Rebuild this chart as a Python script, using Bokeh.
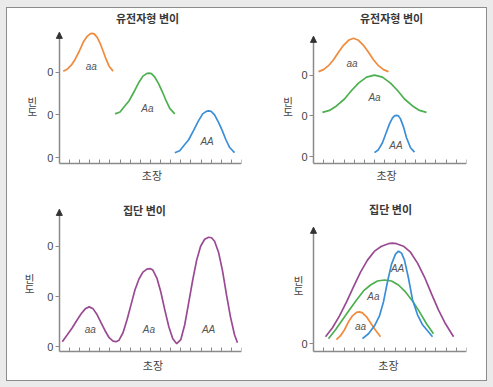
from bokeh.plotting import figure
from bokeh.layouts import column, row
from bokeh.models import Range1d, FixedTicker, Arrow, NormalHead, Label, GlobalInlineStyleSheet
from bokeh.core.properties import value
from bokeh.embed import file_html
from bokeh.resources import INLINE

# ---------------- data ----------------
genotypes = ["aa", "Aa", "AA"]

# Panel 1: genotype variation (separated)
g_aa_x = [0.39, 0.79, 1.18, 1.57, 1.97, 2.36, 2.75, 3.05, 3.24, 3.44, 3.74, 4.03, 4.33, 4.62, 4.92, 5.31]
g_aa_y = [93, 95, 99, 105, 113, 122, 128, 130.5, 131, 130.5, 127, 121, 113, 105, 98, 93]
g_Aa_x = [5.51, 6.00, 6.39, 6.88, 7.37, 7.82, 8.26, 8.62, 8.85, 9.10, 9.44, 9.83, 10.19, 10.56, 10.91, 11.41]
g_Aa_y = [50, 52, 57, 63, 72, 81, 88, 90.5, 91, 90.5, 87, 80, 72, 63, 55.5, 50]
g_AA_x = [11.41, 11.90, 12.29, 12.78, 13.27, 13.72, 14.16, 14.52, 14.75, 15.00, 15.34, 15.73, 16.09, 16.46, 16.81, 17.31]
g_AA_y = [11, 13, 18, 24, 33.5, 42.5, 50, 52.5, 53, 52.5, 49, 41.5, 33.5, 24, 16.5, 11]
g_yticks = [6, 49, 92]
g_lab_x = [3.15, 8.70, 14.60]
g_lab_y = [98, 55.5, 22]

# Panel 2: genotype variation (overlapping)
h_aa_x = [0.49, 0.98, 1.47, 1.96, 2.45, 2.94, 3.43, 3.92, 4.41, 4.90, 5.39, 5.88, 6.37, 6.86, 7.35]
h_aa_y = [92.5, 94.5, 98.5, 104.5, 112, 119, 124, 126, 124, 119, 112, 104.5, 98.5, 94.5, 92.5]
h_Aa_x = [0.88, 1.57, 2.25, 3.04, 3.73, 4.41, 5.20, 5.98, 6.76, 7.55, 8.24, 8.92, 9.71, 10.39, 11.08]
h_Aa_y = [51.5, 53.5, 58, 65, 73.5, 81, 87, 89, 87, 81, 73.5, 65, 58, 53.5, 51.5]
h_AA_x = [5.98, 6.37, 6.76, 7.16, 7.45, 7.75, 7.94, 8.14, 8.33, 8.53, 8.82, 9.12, 9.51, 9.90]
h_AA_y = [11, 14, 21, 32, 40, 46, 48, 48.5, 48, 45, 37, 26, 16, 11.5]
h_yticks = [7, 48, 89]
h_lab_x = [3.77, 5.98, 8.09]
h_lab_y = [101, 66, 18]

# Panel 3: population variation (separated peaks)
k_x = [0.29, 0.79, 1.28, 1.77, 2.16, 2.56, 2.95, 3.34, 3.74, 4.13, 4.52, 4.92, 5.31, 5.60, 5.90,
       6.29, 6.69, 7.08, 7.47, 7.87, 8.26, 8.65, 8.95, 9.24, 9.64, 10.03, 10.42, 10.82, 11.21, 11.60,
       12.00, 12.39, 12.78, 13.18, 13.57, 13.96, 14.36, 14.75, 15.04, 15.34, 15.73, 16.13, 16.52,
       16.91, 17.31, 17.60]
k_y = [10, 17, 24, 32, 38, 43, 45, 43, 37, 29, 21, 14, 10.5, 10, 11.5,
       19, 32, 47, 62, 73, 80, 83, 83.5, 82, 74, 60, 42, 25, 13, 8,
       12, 27, 49, 72, 92, 106, 113, 115, 114.5, 111, 100, 81, 57,
       35, 17, 9]
k_yticks = [5, 55, 106]
k_lab_x = [3.05, 8.85, 14.75]
k_lab_y = [22, 22, 22]

# Panel 4: population variation (overlapping)
m_tot_x = [1.18, 1.86, 2.55, 3.24, 3.92, 4.61, 5.29, 5.98, 6.67, 7.35, 7.75, 8.14, 8.82, 9.51,
           10.20, 10.88, 11.57, 12.25, 12.94, 13.73]
m_tot_y = [15, 24, 36, 50, 65, 80, 92, 101, 106, 108.5, 109, 108.5, 106, 100, 89, 75, 58, 42, 28, 15]
m_Aa_x = [1.47, 2.16, 2.84, 3.53, 4.22, 4.90, 5.59, 6.27, 6.96, 7.65, 8.33, 9.02, 9.71, 10.39, 11.08, 11.76]
m_Aa_y = [13, 22, 32, 42, 52, 61, 67, 71, 72, 71, 67, 60, 51, 40, 28, 18]
m_aa_x = [2.25, 2.65, 3.04, 3.43, 3.82, 4.22, 4.51, 4.80, 5.20, 5.59, 5.98, 6.27, 6.57]
m_aa_y = [12, 16, 22, 30, 36, 39.5, 40, 39, 35, 29, 23, 19, 15]
m_AA_x = [4.80, 5.39, 5.98, 6.47, 6.86, 7.25, 7.65, 8.04, 8.33, 8.63, 8.92, 9.31, 9.71, 10.20, 10.69, 11.18, 11.67]
m_AA_y = [13, 18, 26, 36, 50, 70, 88, 98, 101, 99, 92, 74, 52, 37, 27, 21, 15]
m_yticks = [8]
m_lab_text = ["AA", "Aa", "aa"]
m_lab_x = [8.24, 5.88, 4.61]
m_lab_y = [84, 55, 25]

# ---------------- styles ----------------
ORANGE = "#f08a3c"
GREEN = "#4cb04f"
BLUE = "#3a8fd8"
PURPLE = "#9a4a92"
AXIS = "#8a8a8a"
TXT = "#444444"
KFONT = "Noto Sans CJK KR"
LW = 1.7


def add_text(p, x, y, text, bold=False, size="11px"):
    p.add_layout(Label(x=x, y=y, text=text, text_font=KFONT, text_font_size=size,
                       text_font_style="bold" if bold else "normal",
                       text_color="#383838" if bold else TXT,
                       text_align="center", text_baseline="middle"))


def make_panel(title, w, h, xr, yr, xmax, ymax, yticks, mbr, title_xy, ylab_xy, xlab_xy):
    p = figure(width=w, height=h, x_range=Range1d(*xr), y_range=Range1d(*yr),
               output_backend="svg", toolbar_location=None,
               min_border_left=15, min_border_right=mbr,
               min_border_top=0, min_border_bottom=5,
               background_fill_color="white", border_fill_color="white")
    p.frame_align = False
    p.outline_line_color = None
    p.grid.visible = False

    xa = p.xaxis[0]
    xt = list(range(1, xmax + 1))
    xa.fixed_location = 0
    xa.bounds = (0, xmax)
    xa.ticker = FixedTicker(ticks=xt)
    xa.major_label_overrides = {t: "" for t in xt}
    xa.major_label_text_font_size = "0px"
    xa.major_label_standoff = 0
    xa.major_tick_in = 4
    xa.major_tick_out = 0
    xa.minor_tick_line_color = None
    xa.axis_line_color = AXIS
    xa.axis_line_width = 1.5
    xa.major_tick_line_color = AXIS
    xa.major_tick_line_width = 1

    ya = p.yaxis[0]
    ya.fixed_location = 0
    ya.bounds = (0, ymax)
    ya.ticker = FixedTicker(ticks=yticks)
    ya.major_label_overrides = {t: "0" for t in yticks}
    ya.major_label_text_font = "Liberation Sans"
    ya.major_label_text_font_size = "11px"
    ya.major_label_text_color = TXT
    ya.major_label_standoff = 2
    ya.major_tick_in = 0
    ya.major_tick_out = 4
    ya.minor_tick_line_color = None
    ya.axis_line_color = AXIS
    ya.axis_line_width = 1.5
    ya.major_tick_line_color = AXIS

    p.add_layout(Arrow(end=NormalHead(size=6, fill_color="#333333", line_color="#333333", line_width=1),
                       x_start=0, y_start=ymax - 3, x_end=0, y_end=ymax,
                       line_color=AXIS, line_width=1.5))
    add_text(p, title_xy[0], title_xy[1], title, bold=True)
    add_text(p, ylab_xy[0], ylab_xy[1], "빈", size="10.5px")
    add_text(p, ylab_xy[0], ylab_xy[2], "도", size="10.5px")
    add_text(p, xlab_xy[0], xlab_xy[1], "초장")
    return p


def labels(p, texts, xs, ys):
    p.text(x=xs, y=ys, text=texts,
           text_font=value("Liberation Sans"), text_font_style="italic",
           text_font_size="10px", text_color="#555555",
           text_align="center", text_baseline="middle")


# Panel 1  (frame x: 21..241 px, axis at 58 px; 10.1667 px per x unit, 1 px per y unit)
p1 = make_panel("유전자형 변이", 238, 182, (-3.639, 18), (-22, 156), 18, 132, g_yticks, 4,
                (8.72, 146), (-2.66, 62.5, 52.5), (9.15, -11))
p1.line(g_aa_x, g_aa_y, line_color=ORANGE, line_width=LW)
p1.line(g_Aa_x, g_Aa_y, line_color=GREEN, line_width=LW)
p1.line(g_AA_x, g_AA_y, line_color=BLUE, line_width=LW)
labels(p1, genotypes, g_lab_x, g_lab_y)

# Panel 2  (frame x: 260..466 px, axis at 313 px; 10.2 px per x unit)
p2 = make_panel("유전자형 변이", 241, 182, (-5.196, 15), (-22, 156), 15, 128, h_yticks, 20,
                (7.65, 146), (-2.5, 62, 52), (7.16, -11))
p2.line(h_aa_x, h_aa_y, line_color=ORANGE, line_width=LW)
p2.line(h_Aa_x, h_Aa_y, line_color=GREEN, line_width=LW)
p2.line(h_AA_x, h_AA_y, line_color=BLUE, line_width=LW)
labels(p2, genotypes, h_lab_x, h_lab_y)

# Panel 3
p3 = make_panel("집단 변이", 238, 190, (-3.639, 18), (-24, 162), 18, 143, k_yticks, 4,
                (8.41, 142.7), (-2.95, 73.5, 63), (9.25, -13))
p3.line(k_x, k_y, line_color=PURPLE, line_width=LW)
labels(p3, genotypes, k_lab_x, k_lab_y)

# Panel 4
p4 = make_panel("집단 변이", 241, 190, (-5.196, 15), (-24, 162), 15, 125, m_yticks, 20,
                (7.55, 143), (-1.47, 72, 61.5), (7.35, -13))
p4.line(m_tot_x, m_tot_y, line_color=PURPLE, line_width=LW)
p4.line(m_Aa_x, m_Aa_y, line_color=GREEN, line_width=LW)
p4.line(m_aa_x, m_aa_y, line_color=ORANGE, line_width=LW)
p4.line(m_AA_x, m_AA_y, line_color=BLUE, line_width=LW)
labels(p4, m_lab_text, m_lab_x, m_lab_y)

root = column(row(p1, p2), row(p3, p4),
              margin=(7, 0, 0, 6),
              styles={"border": "1px solid #8c8c8c", "background-color": "white"},
              stylesheets=[GlobalInlineStyleSheet(css="body { background-color: #ebebeb; }")])

open("out.html", "w").write(file_html(root, INLINE))
